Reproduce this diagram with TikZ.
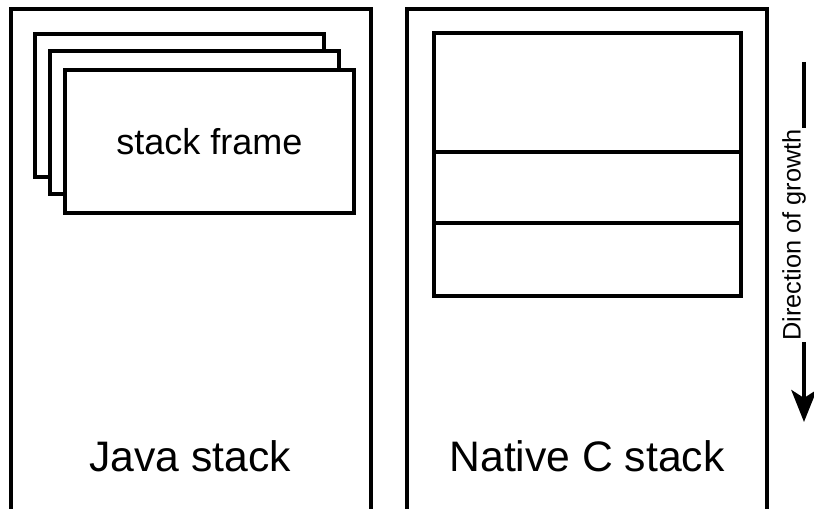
\documentclass[tikz,border=0pt]{standalone}
\usepackage{fontspec}
\setmainfont{Liberation Sans}
\usetikzlibrary{arrows.meta}
\begin{document}
\begin{tikzpicture}[x=0.75pt,y=-0.75pt,
  box/.style={draw, fill=white, line width=3pt, inner sep=0pt, outer sep=0pt, anchor=north west},
  outerbox/.style={box, minimum width=270pt, minimum height=420pt},
  framebox/.style={box, minimum width=216.5pt, minimum height=107.5pt},
  cellbox/.style={box, minimum width=230.25pt},
  biglabel/.style={font=\fontsize{32}{38}\selectfont, inner sep=0pt},
  growline/.style={line width=3pt, -{Stealth[length=24pt,width=19pt,inset=6pt]}}]
\clip (0,0) rectangle (814,509);
% outer containers (open at the bottom, run off the picture)
\node[outerbox] (java) at (11,9) {};
\node[outerbox] (native) at (407,9) {};
% stacked frames
\node[framebox] (f1) at (35,34) {};
\node[framebox] (f2) at (50,51) {};
\node[framebox, font=\fontsize{27}{32}\selectfont] (f3) at (65,70) {stack frame};
% native cells
\node[cellbox, minimum height=89.25pt] (c1) at (434,33) {};
\node[cellbox, minimum height=53.25pt] (c2) at (434,152) {};
\node[cellbox, minimum height=54.75pt] (c3) at (434,223) {};
% labels
\node[biglabel] (jl) at (190,456) {Java stack};
\node[biglabel] (nl) at (587,456) {Native C stack};
% direction of growth
\coordinate (gtop) at (804,62);
\coordinate (gbot) at (804,422);
\draw[growline] (gtop) -- (gbot);
\node[rotate=90, fill=white, inner sep=1pt, font=\fontsize{19}{23}\selectfont] (dir) at (794,235) {Direction of growth};
\end{tikzpicture}
\end{document}
